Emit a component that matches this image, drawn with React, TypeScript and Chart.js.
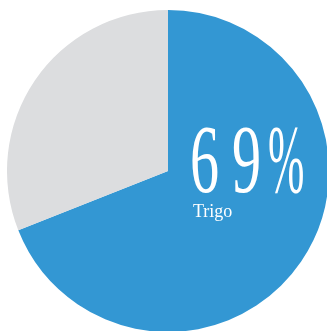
import React, { useEffect, useRef } from "react";
import { Chart, registerables } from "chart.js";

Chart.register(...registerables);

const categories = ["Trigo", "Otros"];
const values = [69, 31];
const colors = ["#3397d3", "#dcdddf"];
const bigLabel = "69%";
const smallLabel = "Trigo";

const centerText = {
  id: "centerText",
  afterDatasetsDraw(chart: any) {
    const meta = chart.getDatasetMeta(0);
    const arc = meta.data[0];
    if (!arc) return;
    const cx = arc.x;
    const cy = arc.y;
    const ctx = chart.ctx;
    ctx.save();
    ctx.fillStyle = "#ffffff";
    ctx.textBaseline = "alphabetic";
    ctx.textAlign = "left";
    ctx.font = '97px "Liberation Serif"';
    const chars = bigLabel.split("");
    const xs = [22, 64, 100];
    const sx = [0.6, 0.6, 0.45];
    chars.forEach((ch, i) => {
      ctx.save();
      ctx.translate(cx + xs[i], cy + 21);
      ctx.scale(sx[i], 1);
      ctx.fillText(ch, 0, 0);
      ctx.restore();
    });
    ctx.font = '18px "Liberation Serif"';
    ctx.fillText(smallLabel, cx + 25, cy + 46);
    ctx.restore();
  },
};

export default function App() {
  const ref = useRef<HTMLCanvasElement>(null);
  useEffect(() => {
    if (!ref.current) return;
    const chart = new Chart(ref.current, {
      type: "pie",
      data: {
        labels: categories,
        datasets: [
          {
            data: values,
            backgroundColor: colors,
            borderWidth: 0,
            hoverOffset: 0,
            offset: 0,
          },
        ],
      },
      options: {
        responsive: false,
        animation: false,
        layout: { padding: 0 },
        plugins: {
          legend: { display: false },
          tooltip: { enabled: false },
        },
      },
      plugins: [centerText],
    });
    return () => chart.destroy();
  }, []);
  return (
    <div
      style={{
        position: "fixed",
        left: 0,
        top: 0,
        width: 327,
        height: 331,
        overflow: "hidden",
        background: "#ffffff",
      }}
    >
      <canvas
        ref={ref}
        width={322}
        height={322}
        style={{ position: "absolute", left: 7, top: 10, width: 322, height: 322 }}
      />
    </div>
  );
}
